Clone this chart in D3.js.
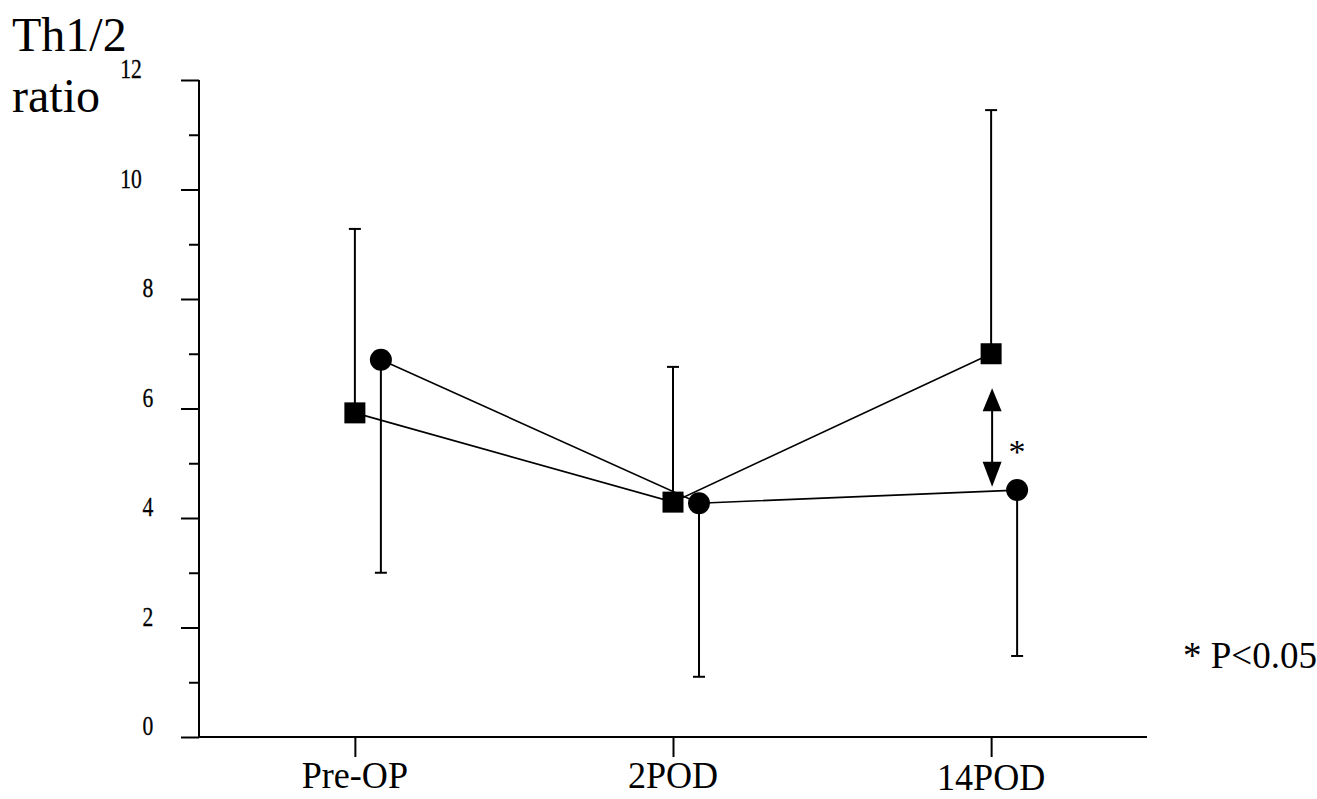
<!DOCTYPE html>
<html>
<head>
<meta charset="utf-8">
<script src="https://cdn.jsdelivr.net/npm/d3@7"></script>
<style>
  html, body { margin: 0; padding: 0; background: #fff; }
  svg { display: block; }
  text { font-family: "Liberation Serif", "Times New Roman", serif; fill: #000; }
</style>
</head>
<body>
<div id="chart"></div>
<script>
// ---- data ----
const categories = ["Pre-OP", "2POD", "14POD"];
const squareMean  = [5.92, 4.29, 7.0];
const squareUpper = [9.28, 6.76, 11.45];
const circleMean  = [6.89, 4.27, 4.51];
const circleLower = [3.0, 1.1, 1.48];
const yTicks = [0, 2, 4, 6, 8, 10, 12];
const yMinorTicks = [1, 3, 5, 7, 9, 11];
const sigArrow = { category: "14POD", from: 6.37, to: 4.57 };
const yTitle = ["Th1/2", "ratio"];
const legendText = "* P<0.05";

// ---- layout ----
const W = 1317, H = 799;
const svg = d3.select("#chart").append("svg").attr("width", W).attr("height", H);
svg.append("rect").attr("width", W).attr("height", H).attr("fill", "#fff");

const x = d3.scalePoint().domain(categories).range([199, 1147]).padding(0.49);
const y = d3.scaleLinear().domain([0, 12]).range([737, 80]);
const circleOffset = 26;

// y axis major
const yAxis = svg.append("g").attr("transform", "translate(199,0)")
  .call(d3.axisLeft(y).tickValues(yTicks).tickSize(18).tickFormat(""));
yAxis.select(".domain").attr("stroke-width", 2).attr("d", `M0,${y(12)}V${y(0)}`);
yAxis.selectAll(".tick line").attr("stroke-width", 2);
// y axis minor
const yMinor = svg.append("g").attr("transform", "translate(199,0)")
  .call(d3.axisLeft(y).tickValues(yMinorTicks).tickSize(10).tickFormat(""));
yMinor.select(".domain").remove();
yMinor.selectAll(".tick line").attr("stroke-width", 2);

// y tick labels (narrow serif)
svg.append("g").selectAll("text").data(yTicks).join("text")
  .attr("transform", d => `translate(${String(d).length > 1 ? 131 : 148},${y(d) - 2}) scale(0.8,1)`)
  .attr("text-anchor", "middle")
  .attr("font-size", 27)
  .attr("stroke", "#000").attr("stroke-width", 0.3)
  .text(d => d);

// x axis
const xAxis = svg.append("g").attr("transform", `translate(0,${y(0)})`)
  .call(d3.axisBottom(x).tickSize(20).tickFormat(""));
xAxis.select(".domain").attr("stroke-width", 2).attr("d", "M199,0H1147");
xAxis.selectAll(".tick line").attr("stroke-width", 2);

svg.append("g").selectAll("text").data(categories).join("text")
  .attr("transform", (d, i) => `translate(${x(d)},${788 + (i === 2 ? 2 : 0)}) scale(0.95,1)`)
  .attr("text-anchor", "middle")
  .attr("font-size", 38)
  .text(d => d);

// error bars
const eb = svg.append("g").attr("stroke", "#000").attr("stroke-width", 2);
categories.forEach((c, i) => {
  const sx = x(c);
  eb.append("line").attr("x1", sx).attr("x2", sx).attr("y1", y(squareMean[i])).attr("y2", y(squareUpper[i]));
  eb.append("line").attr("x1", sx - 6).attr("x2", sx + 6).attr("y1", y(squareUpper[i])).attr("y2", y(squareUpper[i]));
  const cx = x(c) + circleOffset;
  eb.append("line").attr("x1", cx).attr("x2", cx).attr("y1", y(circleMean[i])).attr("y2", y(circleLower[i]));
  eb.append("line").attr("x1", cx - 6).attr("x2", cx + 6).attr("y1", y(circleLower[i])).attr("y2", y(circleLower[i]));
});

// lines
const sqLine = d3.line().x((d, i) => x(categories[i])).y(d => y(d));
const ciLine = d3.line().x((d, i) => x(categories[i]) + circleOffset).y(d => y(d));
svg.append("path").attr("d", sqLine(squareMean)).attr("fill", "none").attr("stroke", "#000").attr("stroke-width", 1.6);
svg.append("path").attr("d", ciLine(circleMean)).attr("fill", "none").attr("stroke", "#000").attr("stroke-width", 1.6);

// markers
svg.append("g").selectAll("rect").data(squareMean).join("rect")
  .attr("x", (d, i) => x(categories[i]) - 10.5)
  .attr("y", d => y(d) - 10.5)
  .attr("width", 21).attr("height", 21).attr("fill", "#000");
svg.append("g").selectAll("circle").data(circleMean).join("circle")
  .attr("cx", (d, i) => x(categories[i]) + circleOffset)
  .attr("cy", d => y(d))
  .attr("r", 11).attr("fill", "#000");

// significance arrow
const ax = x(sigArrow.category) + 1;
const yTop = y(sigArrow.from), yBot = y(sigArrow.to);
svg.append("line").attr("x1", ax).attr("x2", ax).attr("y1", yTop + 10).attr("y2", yBot - 10)
  .attr("stroke", "#000").attr("stroke-width", 2);
svg.append("path").attr("d", `M${ax},${yTop}L${ax - 9.5},${yTop + 23}L${ax + 9.5},${yTop + 23}Z`).attr("fill", "#000");
svg.append("path").attr("d", `M${ax},${yBot}L${ax - 9.5},${yBot - 25}L${ax + 9.5},${yBot - 25}Z`).attr("fill", "#000");
svg.append("text").attr("x", x(sigArrow.category) + circleOffset).attr("y", 463)
  .attr("text-anchor", "middle").attr("font-size", 34).text("*");

// axis title
svg.append("text").attr("x", 12).attr("y", 51).attr("font-size", 48).text(yTitle[0]);
svg.append("text").attr("x", 12).attr("y", 112).attr("font-size", 48).text(yTitle[1]);

// legend
svg.append("text").attr("x", 1183).attr("y", 668).attr("font-size", 37).text(legendText);
</script>
</body>
</html>
